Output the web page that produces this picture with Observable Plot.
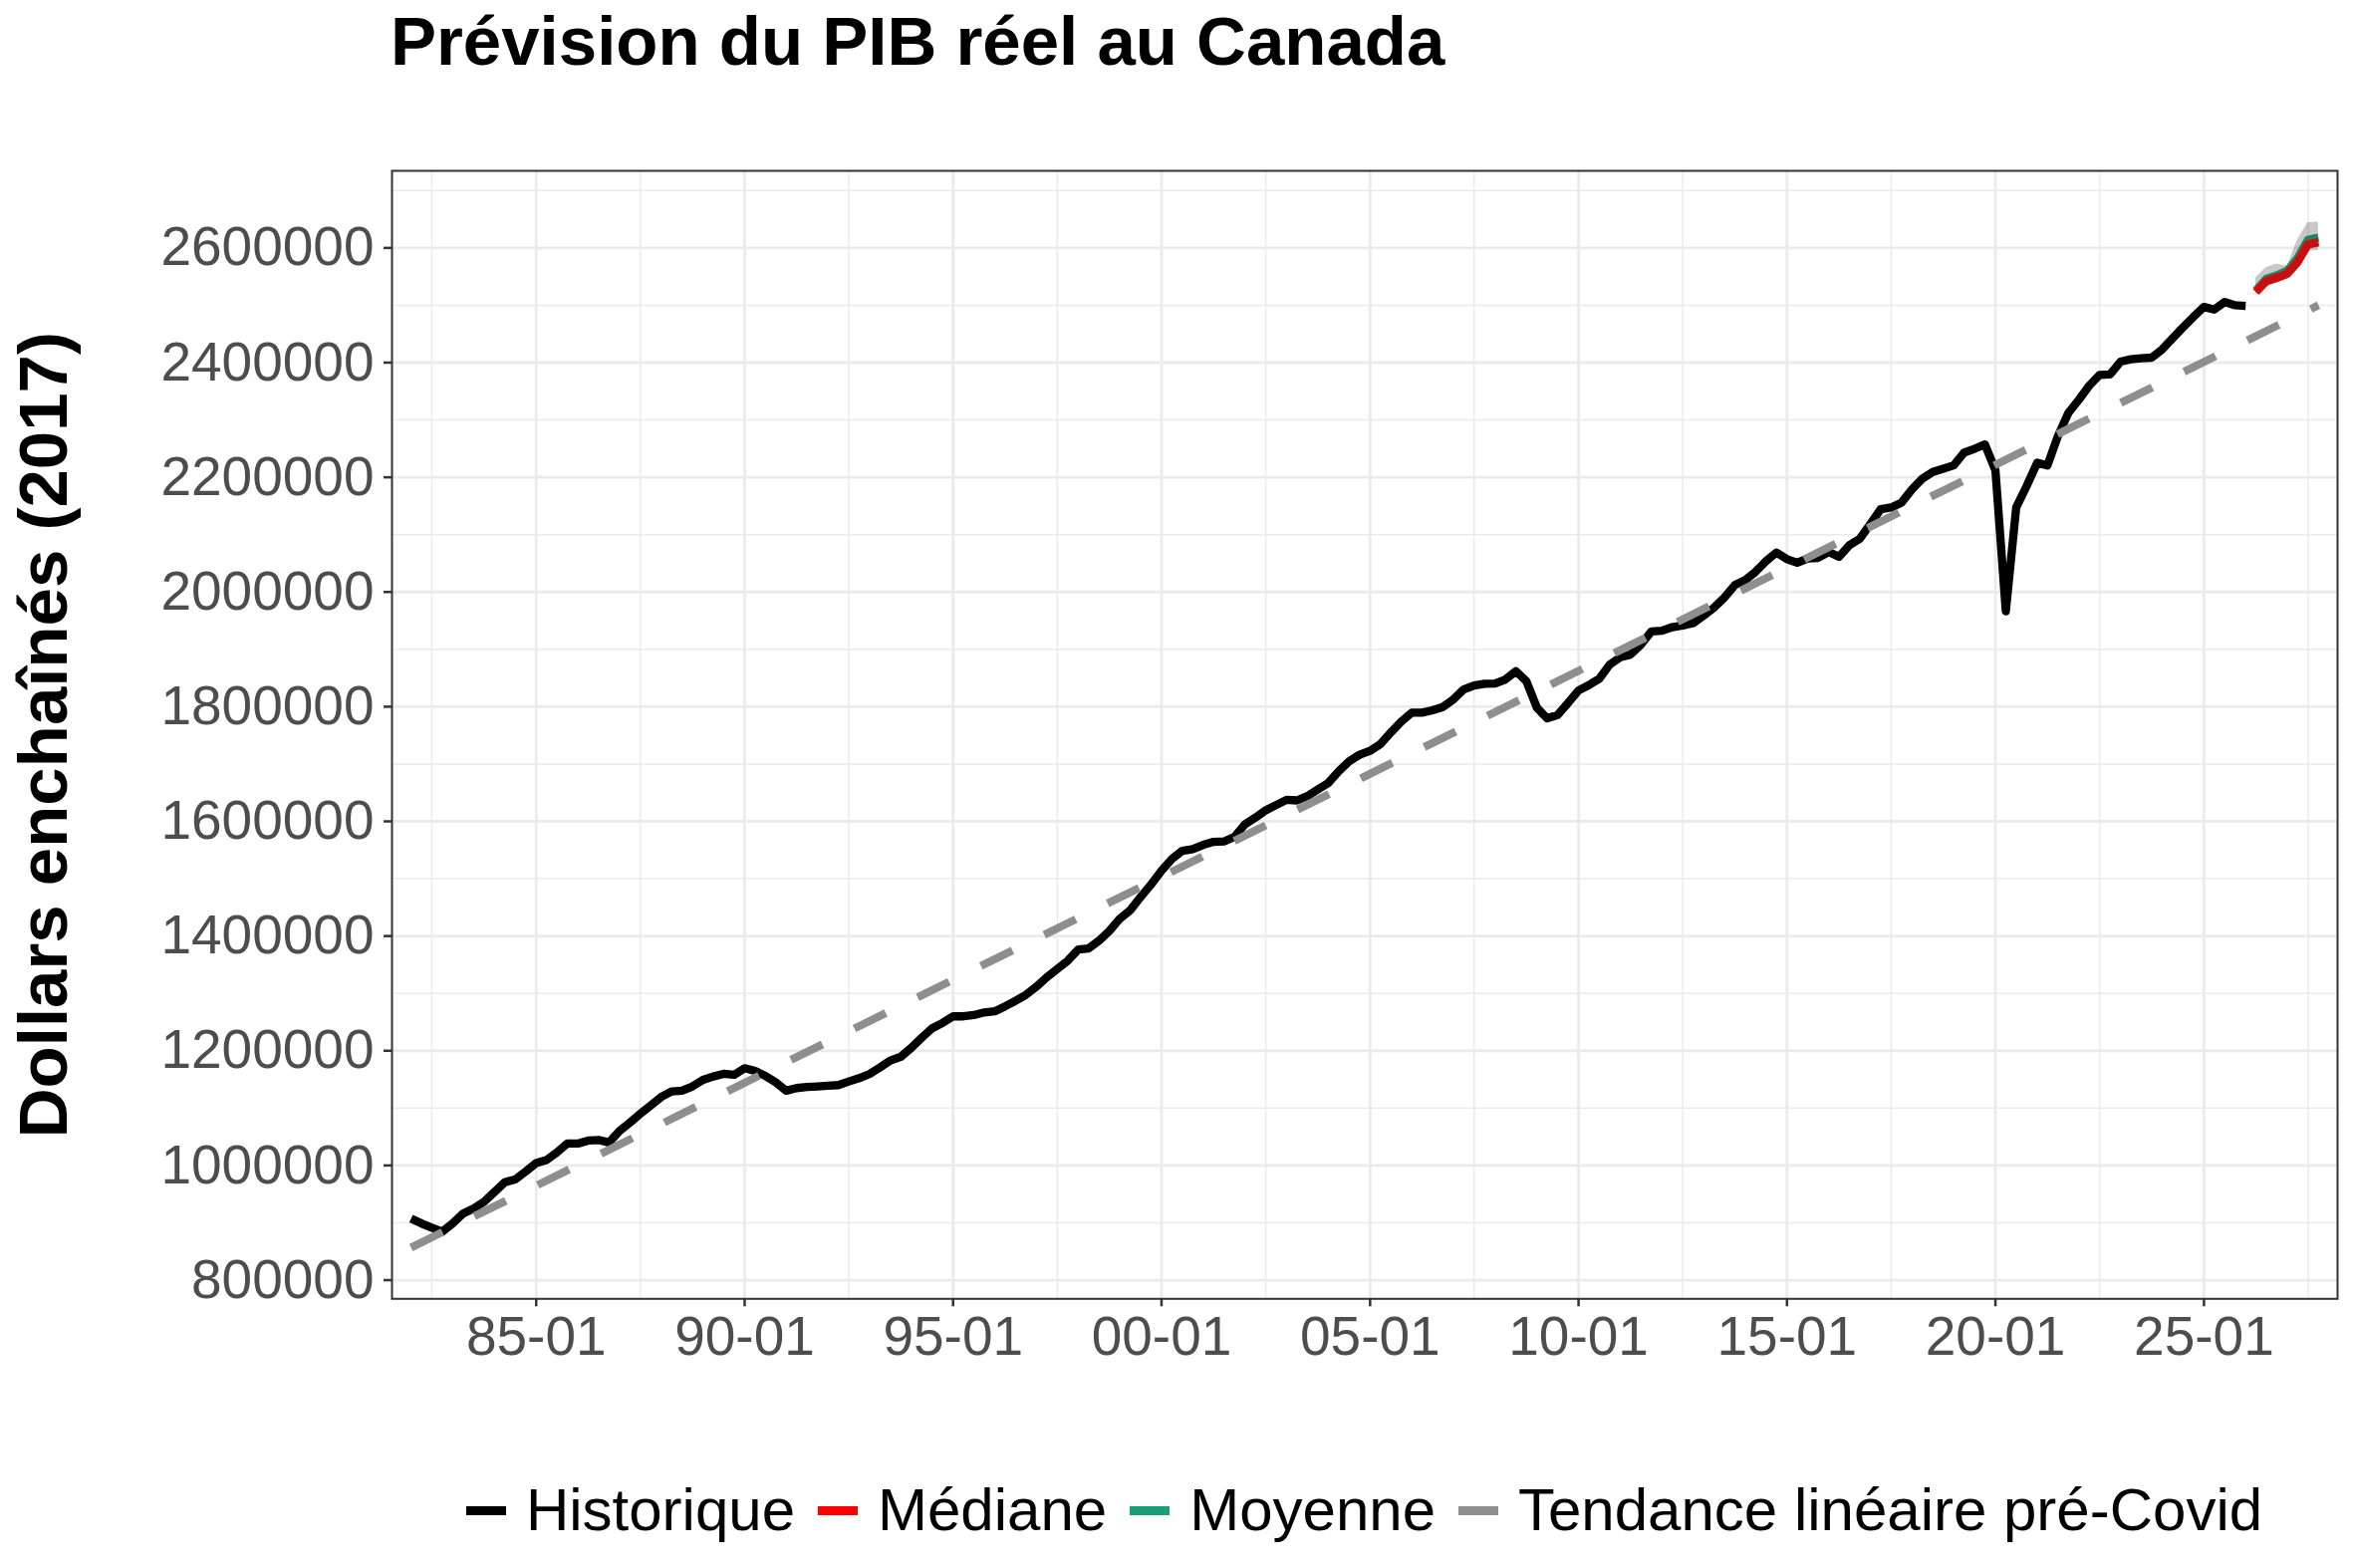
<!DOCTYPE html>
<html><head><meta charset="utf-8">
<script src="https://cdn.jsdelivr.net/npm/d3@7"></script>
<script src="https://cdn.jsdelivr.net/npm/@observablehq/plot@0.6"></script>
<style>
html,body{margin:0;padding:0;background:#fff;}
#page{position:relative;width:2362px;height:1574px;overflow:hidden;font-family:'Liberation Sans',Arial,Helvetica,sans-serif;}
#title{position:absolute;left:392px;top:7px;font-size:69px;font-weight:bold;line-height:1;white-space:nowrap;color:#000;}
#chart{position:absolute;left:0;top:110px;}
#legend{position:absolute;left:393px;width:1953px;top:1486px;display:flex;justify-content:center;align-items:center;font-size:60px;line-height:60px;white-space:nowrap;color:#000;}
.key{display:inline-block;width:40px;height:9px;margin-right:20px;}
.lab{margin-right:23px;}
.lab:last-child{margin-right:0;}
</style></head>
<body><div id="page">
<div id="title">Prévision du PIB réel au Canada</div>
<div id="chart"></div>
<div id="legend"></div>
</div>
<script>
// ---- Data ----
const histStart = "1982-01-01"; // quarterly observations
const histValues = [
  907500, 898900, 891400, 884500,      // 1982
  898900, 916100, 924800, 936300,      // 1983
  953600, 970800, 975400, 989300,      // 1984
  1004200, 1009400, 1022700, 1038200,  // 1985
  1038200, 1043400, 1044500, 1040000,  // 1986
  1060100, 1074500, 1090000, 1104400,  // 1987
  1119400, 1129200, 1130300, 1137800,  // 1988
  1149300, 1155100, 1159700, 1158000,  // 1989
  1169500, 1164900, 1156200, 1144700,  // 1990
  1130300, 1134900, 1136700, 1137800,  // 1991
  1139000, 1140100, 1146400, 1152200,  // 1992
  1159700, 1171000, 1183000, 1189600,  // 1993
  1205200, 1222500, 1239200, 1248500,  // 1994
  1260000, 1260000, 1262300, 1266900,  // 1995
  1268700, 1277400, 1287200, 1297600,  // 1996
  1312000, 1328200, 1342600, 1357000,  // 1997
  1376700, 1378400, 1391700, 1409000,  // 1998
  1430400, 1444800, 1467900, 1489800,  // 1999
  1514100, 1534300, 1548700, 1551600,  // 2000
  1559100, 1564300, 1564900, 1573000,  // 2001
  1594900, 1606500, 1619200, 1628400,  // 2002
  1637600, 1636500, 1644000, 1655500,  // 2003
  1667100, 1687300, 1704600, 1716200,  // 2004
  1723100, 1734700, 1754900, 1774000,  // 2005
  1789600, 1789600, 1793700, 1799400,  // 2006
  1812700, 1830100, 1837000, 1839900,  // 2007
  1840500, 1847400, 1861900, 1844500,  // 2008
  1798300, 1779800, 1785600, 1806400,  // 2009
  1828300, 1837600, 1848600, 1873400,  // 2010
  1886100, 1890800, 1908100, 1931200,  // 2011
  1932400, 1938700, 1941600, 1945700,  // 2012
  1958900, 1972800, 1990100, 2012100,  // 2013
  2020800, 2035300, 2053800, 2068800,  // 2014
  2057200, 2050900, 2058400, 2059500,  // 2015
  2069900, 2061300, 2081500, 2093100,  // 2016
  2118500, 2144500, 2147400, 2156100,  // 2017
  2179200, 2197700, 2209300, 2215000,  // 2018
  2220800, 2242800, 2249700, 2257300,  // 2019
  2212200, 1966500, 2147400, 2185000,  // 2020
  2225500, 2220800, 2271700, 2312200,  // 2021
  2335300, 2359600, 2378600, 2379200,  // 2022
  2401700, 2405800, 2407500, 2408700,  // 2023
  2423100, 2442200, 2461300, 2479800,  // 2024
  2497100, 2492500, 2505800, 2500000,  // 2025
  2498900                              // 2026
];
const forecastDates  = ["2026-04-01","2026-07-01","2026-10-01","2027-01-01","2027-04-01","2027-07-01","2027-10-01"];
const forecastMedian = [2523000, 2542000, 2548000, 2555000, 2575000, 2606000, 2610000];
const forecastMean   = [2526000, 2546000, 2552000, 2560000, 2582000, 2614000, 2618000];
const forecastLower  = [2518000, 2532000, 2538000, 2546000, 2562000, 2594000, 2596000];
const forecastUpper  = [2548000, 2566000, 2572000, 2568000, 2614000, 2644000, 2645000];
const trendDates  = ["1982-01-01", "2027-10-01"];
const trendValues = [856800, 2500000];

const xMajorTicks = ["1985-01-01","1990-01-01","1995-01-01","2000-01-01","2005-01-01","2010-01-01","2015-01-01","2020-01-01","2025-01-01"];
const xMinorTicks = ["1982-07-02","1987-07-02","1992-07-02","1997-07-02","2002-07-02","2007-07-02","2012-07-02","2017-07-02","2022-07-02","2027-07-02"];
const yMajorTicks = [800000,1000000,1200000,1400000,1600000,1800000,2000000,2200000,2400000,2600000];
const yMinorTicks = [900000,1100000,1300000,1500000,1700000,1900000,2100000,2300000,2500000,2700000];

const legendLabels = ["Historique","Médiane","Moyenne","Tendance linéaire pré-Covid"];
const legendColors = ["#000000","#FF0000","#1B9E77","#8E8E8E"];

// ---- Tables for the library ----
const parse = s => new Date(s);
const hist = histValues.map((v, i) => ({date: d3.utcMonth.offset(parse(histStart), 3 * i), value: v}));
const forecast = forecastDates.map((d, i) => ({
  date: parse(d), median: forecastMedian[i], mean: forecastMean[i], lower: forecastLower[i], upper: forecastUpper[i]
}));
const trend = trendDates.map((d, i) => ({date: parse(d), value: trendValues[i]}));

// ggplot-like expansion: 1% on x, 5% on y
const allDates = [...hist.map(d => d.date), ...forecast.map(d => d.date), ...trend.map(d => d.date)];
const [x0, x1] = d3.extent(allDates, d => +d);
const xPad = (x1 - x0) * 0.01;
const allVals = [...histValues, ...forecastLower, ...forecastUpper, ...forecastMean, ...forecastMedian, ...trendValues];
const [y0, y1] = d3.extent(allVals);
const yPad = (y1 - y0) * 0.05;

const font = "'Liberation Sans', Arial, Helvetica, sans-serif";
const chart = Plot.plot({
  width: 2362,
  height: 1300,
  marginLeft: 393,
  marginRight: 16,
  marginTop: 61,
  marginBottom: 106.7,
  style: {fontFamily: font, fontSize: "55px", background: "transparent", overflow: "visible"},
  x: {type: "utc", domain: [new Date(x0 - xPad), new Date(x1 + xPad)]},
  y: {domain: [y0 - yPad, y1 + yPad]},
  marks: [
    Plot.ruleY(yMinorTicks, {stroke: "#EBEBEB", strokeWidth: 1.5}),
    Plot.ruleX(xMinorTicks.map(parse), {stroke: "#EBEBEB", strokeWidth: 1.5}),
    Plot.ruleY(yMajorTicks, {stroke: "#EBEBEB", strokeWidth: 2.8}),
    Plot.ruleX(xMajorTicks.map(parse), {stroke: "#EBEBEB", strokeWidth: 2.8}),
    Plot.axisX({ticks: xMajorTicks.map(parse), tickFormat: d3.utcFormat("%y-%m"), tickSize: 8, tickPadding: 9,
      stroke: "#333333", strokeWidth: 2.5, fill: "#4D4D4D", fontSize: 55, label: null}),
    Plot.axisY({ticks: yMajorTicks, tickFormat: d3.format("d"), tickSize: 8, tickPadding: 10,
      stroke: "#333333", strokeWidth: 2.5, fill: "#4D4D4D", fontSize: 55, label: null}),
    Plot.axisY({ticks: [], tickSize: 0, label: "Dollars enchaînés (2017)", labelAnchor: "center", labelArrow: "none",
      labelOffset: 376, fontSize: 69, fontWeight: "bold", fill: "#000000"}),
    Plot.line(hist, {x: "date", y: "value", stroke: "#000000", strokeWidth: 8.3, strokeLinecap: "butt", strokeLinejoin: "round"}),
    Plot.line(trend, {x: "date", y: "value", stroke: "#8E8E8E", strokeWidth: 8, strokeDasharray: "35.2,35.7", strokeLinecap: "butt"}),
    Plot.line(forecast, {x: "date", y: "mean", stroke: "#1B9E77", strokeWidth: 8.3, strokeLinecap: "butt", strokeLinejoin: "round"}),
    Plot.line(forecast, {x: "date", y: "median", stroke: "#FF0000", strokeWidth: 8.3, strokeLinecap: "butt", strokeLinejoin: "round"}),
    Plot.areaY(forecast, {x: "date", y1: "lower", y2: "upper", fill: "#333333", fillOpacity: 0.27}),
    Plot.frame({stroke: "#333333", strokeWidth: 2})
  ]
});
document.getElementById("chart").appendChild(chart);

// ---- Legend ----
const legend = document.getElementById("legend");
legendLabels.forEach((lab, i) => {
  const k = document.createElement("span");
  k.className = "key";
  k.style.background = legendColors[i];
  const t = document.createElement("span");
  t.className = "lab";
  t.textContent = lab;
  legend.appendChild(k);
  legend.appendChild(t);
});
</script>
</body></html>
